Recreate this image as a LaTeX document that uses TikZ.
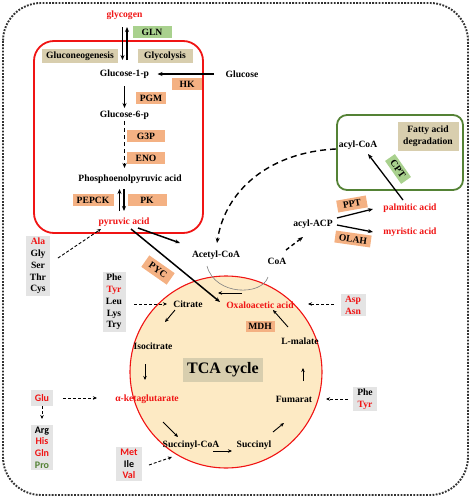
\documentclass[tikz,border=0pt]{standalone}
\usepackage{fontspec}
\setmainfont{Liberation Serif}
\newfontfamily\aafont{Carlito}
\usetikzlibrary{arrows.meta}
\definecolor{enzorange}{RGB}{244,177,131}
\definecolor{enzgreen}{RGB}{169,209,142}
\definecolor{tagtan}{RGB}{216,206,174}
\definecolor{aagray}{RGB}{228,228,228}
\definecolor{tcafill}{RGB}{253,234,196}
\definecolor{fagreen}{RGB}{84,130,53}
\definecolor{mred}{RGB}{240,20,20}
\definecolor{dotgray}{RGB}{50,50,50}
\begin{document}
\begin{tikzpicture}[x=1pt, y=-1pt, >={Stealth[length=5pt,width=4pt]},
	font=\fontsize{9.6}{11.8}\selectfont\bfseries]
	\tikzstyle{metab}=[inner sep=1pt]
	\tikzstyle{enzyme}=[fill=enzorange, minimum height=12pt, inner sep=1pt]
	\tikzstyle{gene}=[fill=enzgreen, minimum height=12pt, inner sep=1pt]
	\tikzstyle{tag}=[fill=tagtan, minimum height=14pt, inner sep=2pt]
	\tikzstyle{amino}=[fill=aagray, align=center, inner sep=2pt]
	\tikzstyle{flux}=[->, line width=1.3pt]
	\tikzstyle{thin flux}=[-{Stealth[length=4pt,width=3.5pt]}, line width=0.9pt]
	\tikzstyle{dflux}=[->, line width=1.4pt, dash pattern=on 6pt off 4pt]
	\tikzstyle{aaflux}=[-{Stealth[length=4pt,width=3.5pt]}, line width=0.9pt, dash pattern=on 3pt off 2pt]
	\useasboundingbox (0,0) rectangle (472,498);

	% compartments
	\draw [dotgray, line width=1.9pt, dash pattern=on 1.8pt off 1.4pt, rounded corners=38pt] (3,3) rectangle (468,495);
	\draw [mred, line width=1.8pt, rounded corners=20pt] (34,41) rectangle (203,233);
	\draw [fagreen, line width=1.8pt, rounded corners=10pt] (337,115) rectangle (463,190);
	\draw [mred, fill=tcafill, line width=1.1pt] (226,372) circle (96pt);

	% glycolysis / gluconeogenesis
	\draw node[metab, text=mred] at (124.5, 15) (glycogen) {glycogen};
	\draw node[gene, minimum width=39pt] at (152, 32) (gln) {GLN};
	\draw node[tag, minimum width=76pt] at (80, 56) (gluconeo) {Gluconeogenesis};
	\draw node[tag, minimum width=55pt] at (165, 56) (glycolysis) {Glycolysis};
	\draw node[metab] at (124.5, 74) (glc1p) {Glucose-1-p};
	\draw node[metab] at (242, 74) (glucose) {Glucose};
	\draw node[enzyme, minimum width=30pt] at (187, 84) (hk) {HK};
	\draw node[enzyme, minimum width=30pt] at (151, 98) (pgm) {PGM};
	\draw node[metab] at (124.5, 115) (glc6p) {Glucose-6-p};
	\draw node[enzyme, minimum width=38pt] at (146, 136) (g3p) {G3P};
	\draw node[enzyme, minimum width=38pt] at (146, 158) (eno) {ENO};
	\draw node[metab] at (130, 179) (pep) {Phosphoenolpyruvic acid};
	\draw node[enzyme, minimum width=41pt] at (93, 200) (pepck) {PEPCK};
	\draw node[enzyme, minimum width=39pt] at (147, 200) (pk) {PK};
	\draw node[metab, text=mred] at (124, 222) (pyruvic) {pyruvic acid};
	\draw node[amino, minimum width=24pt] at (38, 266) (ala) {\textcolor{mred}{Ala}\\Gly\\Ser\\Thr\\Cys};

	% fatty acids
	\draw node[metab] at (216, 255) (acetyl) {Acetyl-CoA};
	\draw node[metab] at (277, 261) (coa) {CoA};
	\draw node[metab] at (313, 224) (acylacp) {acyl-ACP};
	\draw node[metab, text=mred] at (410, 208) (palmitic) {palmitic acid};
	\draw node[metab, text=mred] at (410, 232) (myristic) {myristic acid};
	\draw node[enzyme, minimum width=30pt, rotate=10] at (352, 204) (ppt) {PPT};
	\draw node[enzyme, minimum width=36pt, rotate=-8] at (353, 239) (olah) {OLAH};
	\draw node[metab] at (358, 145) (acylcoa) {acyl-CoA};
	\draw node[tag, align=center, minimum width=61pt, minimum height=29pt] at (428, 136) (fad) {Fatty acid\\degradation};
	\draw node[gene, minimum width=28pt, rotate=-55] at (398, 169) (cpt) {CPT};
	\draw node[enzyme, minimum width=31pt, minimum height=14pt, rotate=-35] at (158, 270) (pyc) {PYC};

	% TCA cycle
	\draw node[tag, minimum width=80pt, minimum height=24pt, font=\fontsize{16}{18}\selectfont\bfseries] at (223, 370) (tca) {TCA cycle};
	\draw node[metab] at (188, 304) (citrate) {Citrate};
	\draw node[metab, text=mred] at (260, 305) (oxalo) {Oxaloacetic acid};
	\draw node[enzyme, minimum width=29pt, minimum height=11pt] at (260, 326) (mdh) {MDH};
	\draw node[metab] at (300, 341) (lmalate) {L-malate};
	\draw node[metab] at (153, 346) (isocit) {Isocitrate};
	\draw node[metab, text=mred] at (147, 399) (akg) {α-ketaglutarate};
	\draw node[metab] at (191, 445) (succoa) {Succinyl-CoA};
	\draw node[metab] at (254, 445) (succ) {Succinyl};
	\draw node[metab] at (294, 399) (fumarat) {Fumarat};

	% amino acids
	\draw node[amino, minimum width=23pt] at (114, 302) (phe) {Phe\\\textcolor{mred}{Tyr}\\Leu\\Lys\\Try};
	\draw node[amino, minimum width=25pt, text=mred] at (353, 305) (asp) {Asp\\Asn};
	\draw node[amino, minimum width=24pt] at (365, 399) (phetyr) {Phe\\\textcolor{mred}{Tyr}};
	\draw node[amino, minimum width=22pt, minimum height=16pt, font=\aafont\fontsize{10}{11.7}\selectfont\bfseries, text=mred] at (42, 398) (glu) {Glu};
	\draw node[amino, minimum width=22pt, font=\aafont\fontsize{10}{11.7}\selectfont\bfseries] at (42, 447.5) (arg) {Arg\\\textcolor{mred}{His}\\\textcolor{mred}{Gln}\\\textcolor{fagreen}{Pro}};
	\draw node[amino, minimum width=26pt, font=\aafont\fontsize{10}{11.5}\selectfont\bfseries] at (129, 464) (met) {\textcolor{mred}{Met}\\Ile\\\textcolor{mred}{Val}};

	% glycolysis arrows
	\draw [flux] ([shift={(-2,12)}]glycogen.center) -- ([shift={(-2,-14)}]glc1p.center);
	\draw [flux] ([shift={(2.5,-14)}]glc1p.center) -- ([shift={(2.5,12)}]glycogen.center);
	\draw [flux] ([shift={(-28,0)}]glucose.center) -- ([shift={(33,0)}]glc1p.center);
	\draw [flux] ([shift={(0,12)}]glc1p.center) -- ([shift={(0,-7)}]glc6p.center);
	\draw [dflux, dash pattern=on 4pt off 3pt] ([shift={(0,6)}]glc6p.center) -- ([shift={(-5.5,-11)}]pep.center);
	\draw [flux] ([shift={(-4.5,-11)}]pyruvic.center) -- ([shift={(-10.5,10)}]pep.center);
	\draw [flux] ([shift={(-6,10)}]pep.center) -- ([shift={(0,-11)}]pyruvic.center);
	\draw [aaflux] ([shift={(20,-8)}]ala.center) -- ([shift={(-23,7)}]pyruvic.center);
	\draw [flux, line width=1.5pt] ([shift={(14,6)}]pyruvic.center) -- ([shift={(-36,-12)}]acetyl.center);
	\draw [flux, line width=1.5pt] ([shift={(7,7)}]pyruvic.center) -- ([shift={(-40,-3)}]oxalo.center);

	% fatty acid arrows
	\draw [dflux] ([shift={(-22,4)}]acylcoa.center) .. controls (270,152) and (225,190) .. ([shift={(1,-12)}]acetyl.center);
	\draw [dflux, dash pattern=on 4pt off 3pt] ([shift={(9,-11)}]coa.center) -- ([shift={(-10,13)}]acylacp.center);
	\draw [flux] ([shift={(24,-6)}]acylacp.center) -- ([shift={(-37,1)}]palmitic.center);
	\draw [flux] ([shift={(24,1)}]acylacp.center) -- ([shift={(-37,0)}]myristic.center);
	\draw [flux] ([shift={(-7,-8)}]palmitic.center) -- ([shift={(10,9)}]acylcoa.center);
	\draw [gray, line width=0.6pt] ([shift={(-9,11)}]acetyl.center) .. controls (215,296) and (262,296) .. ([shift={(-9,16)}]coa.center);

	% TCA arrows
	\draw [thin flux] ([shift={(-18,-12)}]oxalo.center) -- ([shift={(30,-11)}]citrate.center);
	\draw [thin flux] ([shift={(-12,-14)}]lmalate.center) -- ([shift={(13,5)}]oxalo.center);
	\draw [thin flux] ([shift={(-13,6)}]citrate.center) -- ([shift={(12,-24)}]isocit.center);
	\draw [thin flux] ([shift={(-8,18)}]isocit.center) -- ([shift={(-2,-19)}]akg.center);
	\draw [thin flux] ([shift={(16,23)}]akg.center) -- ([shift={(-13,-8)}]succoa.center);
	\draw [thin flux] ([shift={(22,6)}]succoa.center) -- ([shift={(-22,6)}]succ.center);
	\draw [thin flux] ([shift={(19,-13)}]succ.center) -- ([shift={(-10,24)}]fumarat.center);
	\draw [thin flux] ([shift={(9,-18)}]fumarat.center) -- ([shift={(3,27)}]lmalate.center);

	% amino acid arrows
	\draw [aaflux] ([shift={(20,2)}]phe.center) -- ([shift={(-21,0)}]citrate.center);
	\draw [aaflux] ([shift={(-19,-1)}]asp.center) -- ([shift={(48,-1)}]oxalo.center);
	\draw [aaflux] ([shift={(-17,0)}]phetyr.center) -- ([shift={(32,0)}]fumarat.center);
	\draw [aaflux] ([shift={(21,0)}]glu.center) -- ([shift={(-50,-1)}]akg.center);
	\draw [aaflux] ([shift={(0,8)}]glu.center) -- ([shift={(0,-28.5)}]arg.center);
	\draw [aaflux] ([shift={(20,1)}]met.center) -- ([shift={(-19,12)}]succoa.center);
\end{tikzpicture}
\end{document}
